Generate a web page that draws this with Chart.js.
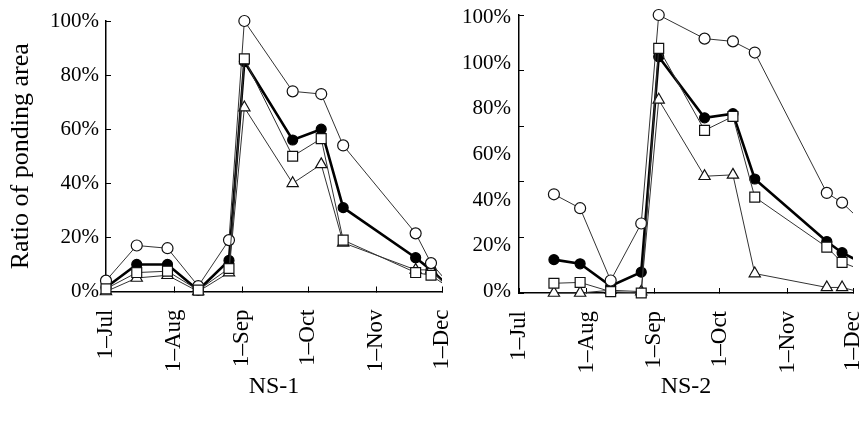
<!DOCTYPE html>
<html>
<head>
<meta charset="utf-8">
<script src="https://cdn.jsdelivr.net/npm/chart.js@4.4.1/dist/chart.umd.min.js"></script>
<style>
  html, body { margin: 0; padding: 0; background: #fff; }
  #wrap { position: relative; width: 866px; height: 427px; overflow: hidden; }
  .box { position: absolute; top: 0; }
  #box1 { left: 0; }
  #box2 { left: 460px; }
</style>
</head>
<body>
<div id="wrap">
  <div class="box" id="box1"><canvas id="ns1" width="460" height="427"></canvas></div>
  <div class="box" id="box2"><canvas id="ns2" width="406" height="427"></canvas></div>
</div>
<script>
// x values are days counted from 1 July
const monthTicks = [0, 31, 62, 92, 123, 153];
const monthLabels = ['1–Jul', '1–Aug', '1–Sep', '1–Oct', '1–Nov', '1–Dec'];
const pctTicks = [0, 20, 40, 60, 80, 100];
// the NS-2 axis carries its own (shifted) set of labels
const ns2AxisLabels = ['0%', '20%', '40%', '60%', '80%', '100%', '100%'];

// NS-1 (ratio of ponding area, %)
const ns1Days     = [0, 14, 28, 42, 56, 63, 85, 98, 108, 141, 148, 156];
const ns1Circle   = [4, 17, 16, 2, 19, 100, 74, 73, 54, 21.5, 10.5, 3];
const ns1Mean     = [1.5, 10, 10, 0.5, 11.5, 85, 56, 60, 31, 12.5, 8, 2];
const ns1Square   = [1, 7, 7.5, 0.5, 8.5, 86, 50, 56.5, 19, 7, 6, 1.5];
const ns1Triangle = [0, 5, 6, 0, 7, 68, 40, 47, 18, 8, 8, 1.5];

// NS-2
const ns2Days     = [16, 28, 42, 56, 64, 85, 98, 108, 141, 148, 158];
const ns2Circle   = [35.5, 30.5, 4.5, 25, 100, 91.5, 90.5, 86.5, 36, 32.5, 25];
const ns2Mean     = [12, 10.5, 2.5, 7.5, 85, 63, 64.5, 41, 18.5, 14.5, 10.5];
const ns2Square   = [3.5, 3.8, 0.5, 0, 88, 58.5, 63.5, 34.5, 16.5, 11, 8];
const ns2Triangle = [0, 0, 1, 0.5, 69.5, 42, 42.5, 7, 2, 2, 0];

const SERIF = "'Liberation Serif', 'Times New Roman', serif";

function pts(days, vals) {
    return days.map((d, i) => ({ x: d, y: vals[i] }));
}

function makeDatasets(days, circle, mean, square, triangle) {
    const common = {
        tension: 0,
        pointBackgroundColor: '#fff',
        pointBorderColor: '#111',
        pointBorderWidth: 1.2,
        borderColor: '#333',
        borderWidth: 1,
        clip: { left: 10, top: 10, right: 0, bottom: 10 }
    };
    // lower order is drawn on top: squares over circles over triangles over the mean
    return [
        { ...common, label: 'mean', data: pts(days, mean), order: 3,
          borderColor: '#000', borderWidth: 2.6, pointRadius: 5,
          pointBackgroundColor: '#000', pointBorderColor: '#000' },
        { ...common, label: 'circle', data: pts(days, circle), order: 1,
          pointStyle: 'circle', pointRadius: 5.5 },
        { ...common, label: 'square', data: pts(days, square), order: 0,
          pointStyle: 'rect', pointRadius: 7 },
        { ...common, label: 'triangle', data: pts(days, triangle), order: 2,
          pointStyle: 'triangle', pointRadius: 6.5 }
    ];
}

function xAxis(title, height) {
    return {
        type: 'linear',
        min: 0,
        max: 153,
        afterBuildTicks: s => { s.ticks = monthTicks.map(v => ({ value: v })); },
        afterFit: s => { s.height = height; s.paddingLeft = 0; s.paddingRight = 0; },
        ticks: {
            autoSkip: false,
            minRotation: 90,
            maxRotation: 90,
            padding: 23,
            color: '#000',
            font: { family: SERIF, size: 23 },
            callback: v => monthLabels[monthTicks.indexOf(v)]
        },
        grid: { display: true, drawOnChartArea: false, drawTicks: true, tickLength: -5, color: '#000', lineWidth: 1 },
        border: { display: true, color: '#000', width: 1.5 },
        title: {
            display: true, text: title, color: '#000',
            font: { family: SERIF, size: 24 },
            padding: { top: 0, bottom: 26 }
        }
    };
}

Chart.defaults.animation = false;
Chart.defaults.events = [];

// NS-1
new Chart(document.getElementById('ns1'), {
    type: 'line',
    data: { datasets: makeDatasets(ns1Days, ns1Circle, ns1Mean, ns1Square, ns1Triangle) },
    options: {
        responsive: false,
        layout: { padding: { top: 21, right: 18, bottom: 0, left: 0 } },
        plugins: { legend: { display: false }, tooltip: { enabled: false } },
        scales: {
            x: xAxis('NS-1', 135.5),
            y: {
                min: 0,
                max: 100,
                afterBuildTicks: s => { s.ticks = pctTicks.map(v => ({ value: v })); },
                afterFit: s => { s.width = 106; s.paddingTop = 0; s.paddingBottom = 0; },
                ticks: {
                    padding: 12,
                    color: '#000',
                    font: { family: SERIF, size: 21 },
                    callback: v => v + '%'
                },
                grid: { display: true, drawOnChartArea: false, drawTicks: true, tickLength: -5, color: '#000', lineWidth: 1 },
                border: { display: true, color: '#000', width: 1.5 },
                title: {
                    display: true, text: 'Ratio of ponding area', color: '#000',
                    font: { family: SERIF, size: 26 },
                    padding: { top: 6, bottom: 0 }
                }
            }
        }
    }
});

// NS-2
new Chart(document.getElementById('ns2'), {
    type: 'line',
    data: { datasets: makeDatasets(ns2Days, ns2Circle, ns2Mean, ns2Square, ns2Triangle) },
    options: {
        responsive: false,
        layout: { padding: { top: 15, right: 13, bottom: 0, left: 0 } },
        plugins: { legend: { display: false }, tooltip: { enabled: false } },
        scales: {
            x: xAxis('NS-2', 134),
            y: {
                min: 0,
                max: 100,
                weight: 0,
                afterBuildTicks: s => { s.ticks = pctTicks.map(v => ({ value: v })); },
                afterFit: s => { s.width = 0; s.paddingTop = 0; s.paddingBottom = 0; },
                ticks: { display: false },
                grid: { display: true, drawOnChartArea: false, drawTicks: true, tickLength: -5, color: '#000', lineWidth: 1 },
                border: { display: true, color: '#000', width: 1.5 }
            },
            yLab: {
                type: 'linear',
                position: 'left',
                weight: 1,
                min: -0.04,
                max: 6.06,
                afterBuildTicks: s => { s.ticks = ns2AxisLabels.map((t, i) => ({ value: i })); },
                afterFit: s => { s.width = 59; s.paddingTop = 0; s.paddingBottom = 0; },
                ticks: {
                    padding: 8,
                    color: '#000',
                    font: { family: SERIF, size: 21 },
                    callback: v => ns2AxisLabels[v]
                },
                grid: { display: false, drawTicks: false },
                border: { display: false }
            }
        }
    }
});
</script>
</body>
</html>
